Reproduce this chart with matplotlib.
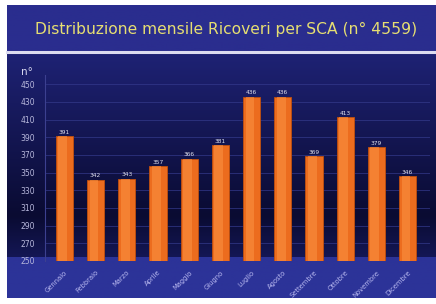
import numpy as np
import matplotlib
matplotlib.use("Agg")
import matplotlib.pyplot as plt

# ------------------ Data ------------------
months = ["Gennaio", "Febbraio", "Marzo", "Aprile", "Maggio", "Giugno",
          "Luglio", "Agosto", "Settembre", "Ottobre", "Novembre", "Dicembre"]
ricoveri = [391, 342, 343, 357, 366, 381, 436, 436, 369, 413, 379, 346]
y_ticks = [250, 270, 290, 310, 330, 350, 370, 390, 410, 430, 450]
title = "Distribuzione mensile Ricoveri per SCA (n° 4559)"

W, H = 436, 304
fig = plt.figure(figsize=(W / 100, H / 100), dpi=100, facecolor="white")

# ------------------ background (blue slide) ------------------
bg = fig.add_axes([7 / W, 6 / H, 1 - 8 / W, 1 - 11 / H])
rows = 300
col = np.zeros((rows, 1, 3))
title_c = np.array([0x2a, 0x2d, 0x8e]) / 255
top_c = np.array([0x1e, 0x22, 0x74]) / 255
mid_c = np.array([0x0a, 0x0b, 0x32]) / 255
floor_c = np.array([0x14, 0x17, 0x55]) / 255
bot_c = np.array([0x2c, 0x33, 0x98]) / 255
for i in range(rows):
    if i < 50:
        col[i, 0] = title_c
    elif i < 215:
        f = (i - 50) / 165
        col[i, 0] = top_c * (1 - f) + mid_c * f
    elif i < 258:
        f = (i - 215) / 43
        col[i, 0] = mid_c * (1 - f) + floor_c * f
    else:
        col[i, 0] = bot_c
bg.imshow(col, aspect="auto", extent=[0, 1, 0, 1])
bg.set_axis_off()

# white separator under the title
fig.add_artist(plt.Line2D([7 / W, 1], [1 - 52 / H] * 2, color="#dcdcf0", lw=2.2))

fig.text(226 / W, 1 - 29 / H, title, ha="center", va="center",
         color="#e6de72", fontsize=11.2, family="DejaVu Sans")
fig.text(27 / W, 1 - 72 / H, "n°", ha="center", va="center",
         color="#d8d8f0", fontsize=7.5)

# ------------------ plot area ------------------
ax = fig.add_axes([45 / W, (H - 261) / H, (430 - 45) / W, (261 - 75) / H])
ax.patch.set_alpha(0)
x = np.arange(len(months))

ax.bar(x, np.array(ricoveri) - 250, bottom=250, width=0.55,
       color="#ec6c1e", edgecolor="#c0500e", linewidth=0.6, zorder=3)
ax.bar(x - 0.05, np.array(ricoveri) - 250, bottom=250, width=0.28,
       color="#fa9040", linewidth=0, alpha=0.6, zorder=3)

for xi, v in zip(x, ricoveri):
    ax.text(xi, v + 1.5, str(v), ha="center", va="bottom",
            fontsize=4.2, color="#e0e0ec", zorder=4)

ax.set_ylim(250, 460.5)
ax.set_xlim(-0.62, 11.72)
ax.set_yticks(y_ticks)
ax.yaxis.grid(True, color="#343a8c", lw=0.7, alpha=0.7, zorder=0)
ax.set_axisbelow(True)

ax.set_xticks(x)
ax.set_xticklabels(months, rotation=45, ha="right", rotation_mode="anchor",
                   fontsize=4.9, color="#b8b8f0")
ax.tick_params(axis="x", length=0, pad=6)
ax.tick_params(axis="y", length=0, pad=7, labelsize=5.5, labelcolor="#b8b8dc")

for s in ["top", "right", "bottom"]:
    ax.spines[s].set_visible(False)
ax.spines["left"].set_color("#3c4090")
ax.spines["left"].set_linewidth(0.8)

fig.savefig("out.png", dpi=100, facecolor=fig.get_facecolor())
